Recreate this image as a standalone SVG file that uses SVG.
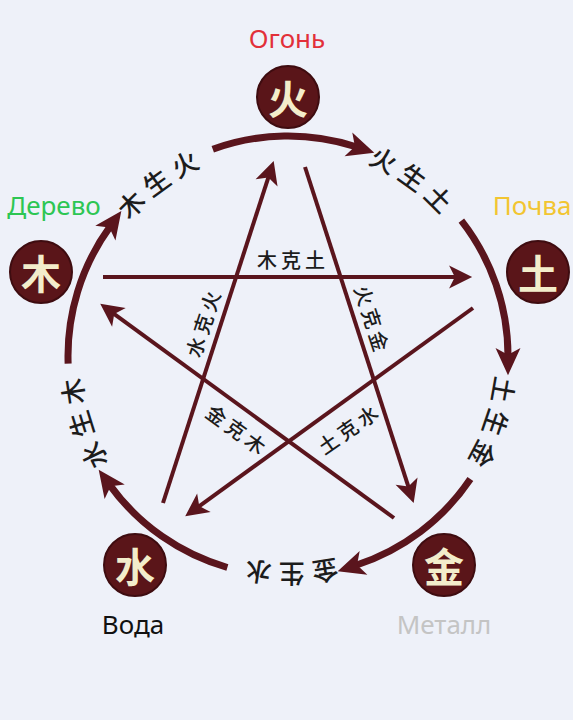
<svg xmlns="http://www.w3.org/2000/svg" width="573" height="720" viewBox="0 0 573 720">
<style>
.bg{fill:#eef1f9}
.ring{fill:none;stroke:#5a151d;stroke-width:7;stroke-linecap:butt}
.star{fill:none;stroke:#5a151d;stroke-width:4}
.node{fill:#5a1519;stroke:#3e0c10;stroke-width:2}
.nt{font-family:"Noto Sans CJK SC","Noto Sans",sans-serif;font-weight:bold;font-size:40px;fill:#f3edcb;text-anchor:middle;dominant-baseline:central}
.rl{font-family:"Noto Sans CJK SC",sans-serif;font-weight:500;font-size:26px;fill:#1c1c1c;letter-spacing:8px}
.sl{font-family:"Noto Sans CJK SC",sans-serif;font-weight:500;font-size:20px;fill:#1c1c1c;letter-spacing:4px;text-anchor:middle;dominant-baseline:central}
.ru{font-family:"Noto Sans","Open Sans",sans-serif;font-size:26px;text-anchor:middle}
</style>
<defs>
<marker id="ah" markerUnits="userSpaceOnUse" markerWidth="30" markerHeight="30" viewBox="-2 -12 26 24" refX="6" refY="0" orient="auto">
<path d="M0,-10 L20,0 L0,10 L5,0 Z" fill="#5a151d"/>
</marker>
<marker id="ahr" markerUnits="userSpaceOnUse" markerWidth="34" markerHeight="34" viewBox="-2 -14 30 28" refX="7" refY="0" orient="auto">
<path d="M0,-11 L24,0 L0,11 L6,0 Z" fill="#5a151d"/>
</marker>
<path id="circ" d="M288,136 A220,220 0 0 1 288,576 A220,220 0 0 1 288,136"/>
</defs>
<rect class="bg" x="0" y="0" width="573" height="720"/>

<g id="connectors">
<path class="ring" d="M212.76,149.27 A220,220 0 0 1 355.98,146.76" marker-end="url(#ahr)"/>
<path class="ring" d="M461.36,220.55 A220,220 0 0 1 508,356" marker-end="url(#ahr)"/>
<path class="ring" d="M470.38,479.02 A220,220 0 0 1 355.98,565.24" marker-end="url(#ahr)"/>
<path class="ring" d="M227.36,567.49 A220,220 0 0 1 110.02,485.32" marker-end="url(#ahr)"/>
<path class="ring" d="M68.13,363.68 A220,220 0 0 1 110.02,226.68" marker-end="url(#ahr)"/>

<path class="star" d="M103,277 L456,277" marker-end="url(#ah)"/>
<path class="star" d="M305,167 L408.7,487.7" marker-end="url(#ah)"/>
<path class="star" d="M394,518 L113.3,313.3" marker-end="url(#ah)"/>
<path class="star" d="M473,308 L198.3,506.8" marker-end="url(#ah)"/>
<path class="star" d="M163,503 L268.7,176.3" marker-end="url(#ah)"/>
</g>

<g id="ring-labels">
<text class="rl" dominant-baseline="central"><textPath href="#circ" startOffset="138" text-anchor="middle">火生土</textPath></text>
<text class="rl" dominant-baseline="central"><textPath href="#circ" startOffset="418" text-anchor="middle">土生金</textPath></text>
<text class="rl" dominant-baseline="central"><textPath href="#circ" startOffset="691" text-anchor="middle">金生水</textPath></text>
<text class="rl" dominant-baseline="central"><textPath href="#circ" startOffset="970" text-anchor="middle">水生木</textPath></text>
<text class="rl" dominant-baseline="central"><textPath href="#circ" startOffset="1243" text-anchor="middle">木生火</textPath></text>
</g>

<g id="star-labels">
<text class="sl" transform="translate(293,259)">木克土</text>
<text class="sl" transform="translate(203,322) rotate(-72)">水克火</text>
<text class="sl" transform="translate(373,320) rotate(72)">火克金</text>
<text class="sl" transform="translate(238,430) rotate(36)">金克木</text>
<text class="sl" transform="translate(349,428) rotate(-35)">土克水</text>
</g>

<g id="fire">
<circle class="node" cx="288" cy="97" r="31"/>
<text class="nt" x="288" y="97">火</text>
<text class="ru" x="287" y="48" fill="#e2303a">Огонь</text>
</g>
<g id="wood">
<circle class="node" cx="41" cy="272" r="31"/>
<text class="nt" x="41" y="272">木</text>
<text class="ru" x="54" y="215" fill="#2dc653">Дерево</text>
</g>
<g id="earth">
<circle class="node" cx="538" cy="272" r="31"/>
<text class="nt" x="538" y="272">土</text>
<text class="ru" x="532" y="215" fill="#f2c531">Почва</text>
</g>
<g id="water">
<circle class="node" cx="135" cy="565" r="31"/>
<text class="nt" x="135" y="565">水</text>
<text class="ru" x="133" y="634" fill="#111111">Вода</text>
</g>
<g id="metal">
<circle class="node" cx="444" cy="565" r="31"/>
<text class="nt" x="444" y="565">金</text>
<text class="ru" x="444" y="634" fill="#c4c4c4">Металл</text>
</g>
</svg>
